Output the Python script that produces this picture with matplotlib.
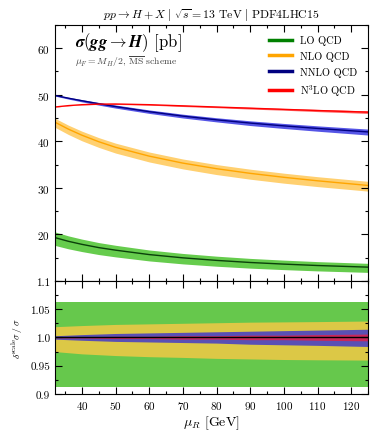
import matplotlib
matplotlib.use("Agg")
import matplotlib.pyplot as plt
from matplotlib.ticker import MultipleLocator
import numpy as np

plt.rcParams['font.family'] = 'serif'
plt.rcParams['font.serif'] = ['cmr10', 'DejaVu Serif']
plt.rcParams['mathtext.fontset'] = 'cm'
plt.rcParams['axes.formatter.use_mathtext'] = True

# renormalisation scale points (GeV)
mu_r = [32, 36, 40, 45, 50, 60, 70, 80, 90, 100, 110, 125]

# central cross sections [pb]
lo = [19.3, 18.5, 17.85, 17.15, 16.6, 15.65, 14.95, 14.4, 13.95, 13.6, 13.3, 12.95]
nlo = [44.1, 42.6, 41.3, 39.9, 38.7, 36.8, 35.3, 34.1, 33.1, 32.25, 31.5, 30.5]
nnlo = [49.85, 49.25, 48.7, 48.05, 47.45, 46.35, 45.4, 44.6, 43.9, 43.3, 42.75, 42.0]
n3lo = [47.35, 47.65, 47.85, 47.97, 48.0, 47.85, 47.6, 47.35, 47.1, 46.85, 46.6, 46.25]

# scale uncertainty, relative (upper / lower)
lo_up = [1.063] * 12
lo_dn = [0.913] * 12
nlo_up = [1.019, 1.020, 1.021, 1.022, 1.023, 1.024, 1.025, 1.026, 1.027, 1.0275, 1.028, 1.029]
nlo_dn = [0.975, 0.973, 0.971, 0.9695, 0.968, 0.966, 0.9647, 0.963, 0.962, 0.961, 0.9605, 0.960]
nnlo_up = [1.003, 1.004, 1.005, 1.006, 1.007, 1.008, 1.009, 1.010, 1.011, 1.012, 1.013, 1.0145]
nnlo_dn = [0.997, 0.996, 0.995, 0.994, 0.993, 0.992, 0.991, 0.990, 0.988, 0.987, 0.986, 0.984]
n3lo_up = [1.0005, 1.001, 1.001, 1.0015, 1.002, 1.002, 1.003, 1.003, 1.004, 1.004, 1.005, 1.006]
n3lo_dn = [0.9995, 0.999, 0.999, 0.9985, 0.998, 0.998, 0.997, 0.997, 0.996, 0.996, 0.995, 0.994]

labels = ['LO QCD', 'NLO QCD', 'NNLO QCD', r'N$^3$LO QCD']
ratio_ticks = [0.9, 0.95, 1.0, 1.05, 1.1]
ratio_ticklabels = ['0.9', '0.95', '1.0', '1.05', '1.1']

x = np.array(mu_r)

fig = plt.figure(figsize=(3.71, 4.31), dpi=100)
ax = fig.add_axes([0.148, 0.346, 0.844, 0.594])
axr = fig.add_axes([0.148, 0.0835, 0.844, 0.2625], sharex=ax)

series = [
    (lo, lo_up, lo_dn, '#66cc4d', '#0a400a', '#66c84c', 'green'),
    (nlo, nlo_up, nlo_dn, '#ffd070', 'orange', '#dcc846', 'orange'),
    (nnlo, nnlo_up, nnlo_dn, '#5555e6', '#000080', '#5a50b4', 'navy'),
    (n3lo, n3lo_up, n3lo_dn, '#ff6060', 'red', '#c8285a', 'red'),
]

for (c, up, dn, band, line, rband, leg), lab in zip(series, labels):
    c = np.array(c)
    ax.fill_between(x, c * np.array(up), c * np.array(dn), color=band, lw=0)
    ax.plot(x, c, color=line, lw=1.0)
    ax.plot([], [], color=leg, lw=2.5, label=lab)
    axr.fill_between(x, up, dn, color=rband, lw=0)

axr.axhline(1.0, color='black', lw=1.0)

ax.set_xlim(32, 125)
ax.set_ylim(10, 65)
ax.set_yticks([20, 30, 40, 50, 60])
ax.yaxis.set_minor_locator(MultipleLocator(5))
ax.xaxis.set_major_locator(MultipleLocator(10))
ax.xaxis.set_minor_locator(MultipleLocator(5))
plt.setp(ax.get_xticklabels(), visible=False)

axr.set_ylim(0.9, 1.1)
axr.set_yticks(ratio_ticks)
axr.set_yticklabels(ratio_ticklabels)
axr.yaxis.set_minor_locator(MultipleLocator(0.025))

for a in (ax, axr):
    a.tick_params(which='both', direction='in', top=True, right=True, labelsize=8)
    a.tick_params(which='major', length=5, width=0.8)
    a.tick_params(which='minor', length=2.5, width=0.8)

ax.text(0.065, 0.935, r'$\boldsymbol{\sigma(gg\to H)}$ [pb]', transform=ax.transAxes,
        fontsize=12, va='center')
ax.text(0.065, 0.86, r'$\mu_F = M_H/2$, $\overline{\rm MS}$ scheme', transform=ax.transAxes,
        fontsize=7, color='#444444', va='center')
ax.legend(loc='upper right', frameon=False, fontsize=7.5, handlelength=2.2,
          borderaxespad=0.6, labelspacing=0.55)

ax.set_title(r'$pp \to H + X\ |\ \sqrt{s} = 13\ \mathrm{TeV}\ |\ \mathrm{PDF4LHC15}$',
             fontsize=8.5, pad=5)
axr.set_xlabel(r'$\boldsymbol{\mu_R}$ [GeV]', fontsize=10, labelpad=2)
axr.set_ylabel(r'$\delta^{\rm scale}\sigma\,/\,\sigma$', fontsize=7, labelpad=4)

fig.savefig('out.png', dpi=100)
